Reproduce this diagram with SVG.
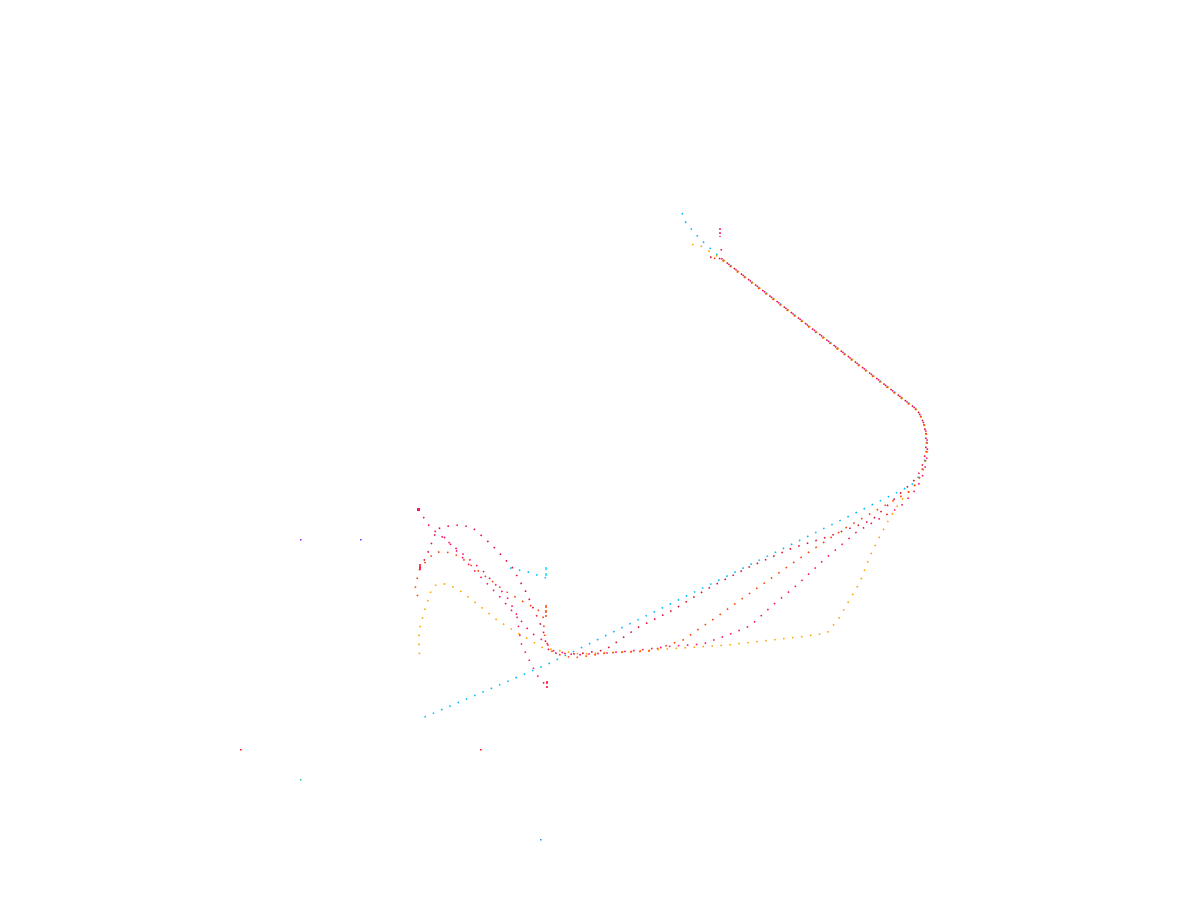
<svg xmlns="http://www.w3.org/2000/svg" width="1200" height="900" viewBox="0 0 1200 900">
<style>
.t{fill:none;stroke-width:1.6;stroke-dasharray:1.6 7.4;stroke-linecap:butt;stroke-linejoin:round}
.cy{stroke:#00bfff}
.cr{stroke:#dc143c}
.or{stroke:#ff4500}
.og{stroke:#ffa500}
.pk{stroke:#ff1070}
</style>
<rect width="1200" height="900" fill="#ffffff"/>
<g id="tracks">
<path id="cyan" class="t cy" d="M682,213 L686,223 L700,239 L722,259 L915,408 C930,422 932,470 910,486 L890,496 L548,664 L420,719"/>
<path id="orange" class="t og" stroke-dashoffset="2" d="M685,244 L699,245 L722,259 L915,408 C931,424 933,470 910,490 C898,502 885,525 870,556 L860,582 L839,618 L827,633 L807,636 L727,645 L637,651 L580,654 L543,648 L530,640 L516,632 L497,620 L476,603 L459,590 C450,585 440,580 432,588 L424,612 L419,631 L419,650 L420,659"/>
<path id="orangered" class="t or" stroke-dashoffset="4" d="M709,257 L722,260 L915,409 C931,424 933,468 909,492 L898,498 L847,527 L803,556 L760,586 L718,616 L683,640 L650,651 L607,653 L573,658 L553,653 L545,640 L543,615 L537,609 L522,601 L505,591 L481,573 L464,560 C455,553 444,550 434,553 L420,568 L416,583 L415,590 L419,599"/>
<path id="pink" class="t pk" stroke-dashoffset="6" d="M721,246 L722,259 L915,408 C931,424 933,470 912,494 L900,507 L858,531 L827,557 L797,585 L773,605 L750,626 L733,633 L703,644 L673,646 L640,650 L607,653 L575,655 L550,650 L547,643 L530,632 L518,617 L507,597 L482,570 L452,545 L430,527 L418,509"/>
<path id="crimson" class="t cr" stroke-dashoffset="8" d="M709,257 L722,259 L915,408 C930,422 932,470 906,488 L872,520 L827,537 L790,549 L747,568 L707,589 L673,610 L637,628 L605,650 L578,654 L552,653 L547,648 L543,630 L526,592 L512,567 L492,545 L474,529 C465,524 452,524 437,529 L427,555 L420,568"/>
<path id="pink2" class="t pk" d="M444,537 L472,568 L501,598 L517,617 L521,643 L527,656 L537,675 L547,687"/>
<path id="cyan2" class="t cy" d="M510,568 L528,572 L546,578"/>
<line x1="546" y1="567" x2="546" y2="578" stroke="#00e0ff" stroke-width="1.5" stroke-dasharray="3 3"/>
<line x1="546" y1="605" x2="546" y2="617" stroke="#ff4500" stroke-width="1.5" stroke-dasharray="3 2"/>
<line x1="547" y1="681" x2="547" y2="688" stroke="#ff0020" stroke-width="1.5" stroke-dasharray="3 2"/>
<line x1="720" y1="228" x2="720" y2="237" stroke="#ff1070" stroke-width="1.5" stroke-dasharray="2 2"/>
<line x1="420" y1="564" x2="420" y2="570" stroke="#ff0020" stroke-width="1.5"/>
<rect x="417" y="508" width="3" height="3" fill="#ff1070"/>
</g>
<g id="points">
<rect x="300" y="539" width="1.5" height="1.5" fill="#8a2be2"/>
<rect x="360" y="539" width="1.5" height="1.5" fill="#5a3cff"/>
<rect x="240" y="749" width="1.5" height="1.5" fill="#ff0020"/>
<rect x="480" y="749" width="1.5" height="1.5" fill="#ff0020"/>
<rect x="300" y="779" width="1.5" height="1.5" fill="#20c0a0"/>
<rect x="540" y="839" width="1.5" height="1.5" fill="#1e90ff"/>
</g>
</svg>
